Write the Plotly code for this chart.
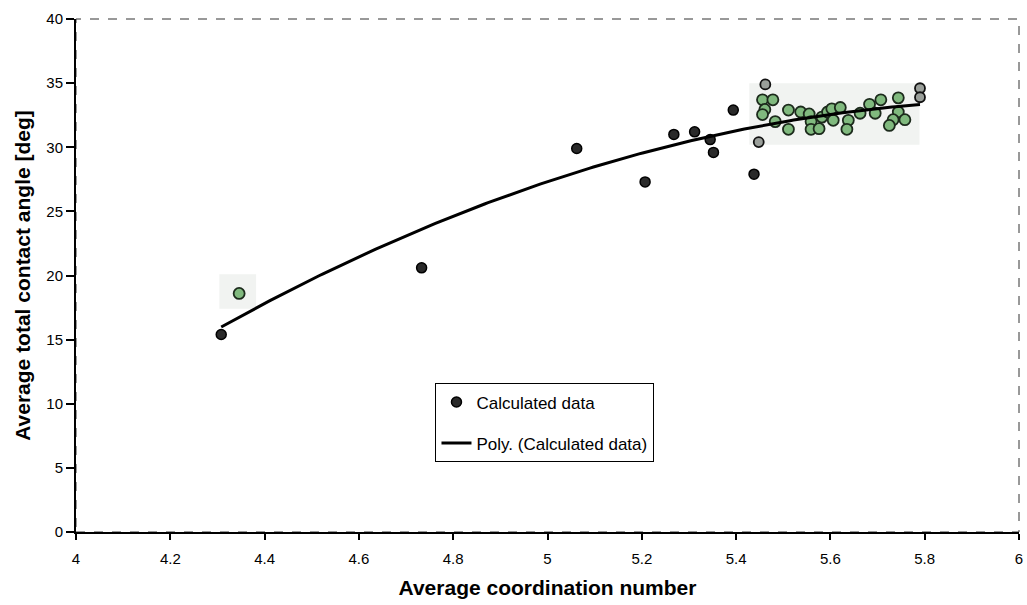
import numpy as np
import plotly.graph_objects as go

# Calculated data: average coordination number vs. average total contact angle [deg]
dark_x = [4.308, 4.733, 5.062, 5.207, 5.268, 5.312, 5.345, 5.352, 5.394, 5.438]
dark_y = [15.4, 20.6, 29.9, 27.3, 31.0, 31.2, 30.6, 29.6, 32.9, 27.9]

grey_x = [5.448, 5.462, 5.790, 5.790]
grey_y = [30.4, 34.9, 34.6, 33.9]

green_x = [4.346, 5.456, 5.478, 5.461, 5.456, 5.483, 5.511, 5.511, 5.537, 5.555,
           5.559, 5.559, 5.576, 5.582, 5.594, 5.603, 5.621, 5.606, 5.638, 5.635,
           5.663, 5.683, 5.695, 5.707, 5.744, 5.744, 5.733, 5.725, 5.758]
green_y = [18.6, 33.7, 33.7, 32.95, 32.55, 32.0, 32.9, 31.4, 32.75, 32.6,
           32.0, 31.4, 31.45, 32.35, 32.75, 33.0, 33.1, 32.1, 32.1, 31.4,
           32.65, 33.35, 32.65, 33.7, 33.85, 32.75, 32.15, 31.7, 32.15]

x_ticks = [4, 4.2, 4.4, 4.6, 4.8, 5, 5.2, 5.4, 5.6, 5.8, 6]
x_tick_text = ["4", "4.2", "4.4", "4.6", "4.8", "5", "5.2", "5.4", "5.6", "5.8", "6"]
y_ticks = [0, 5, 10, 15, 20, 25, 30, 35, 40]

# Second-order polynomial trend line over all calculated points
all_x = np.array(dark_x + grey_x + green_x)
all_y = np.array(dark_y + grey_y + green_y)
coef = np.polyfit(all_x, all_y, 2)
fit_x = np.linspace(all_x.min(), all_x.max(), 200)
fit_y = np.polyval(coef, fit_x)

FONT = "Liberation Sans, Arial, sans-serif"

fig = go.Figure()

fig.add_trace(go.Scatter(
    x=green_x, y=green_y, mode="markers", showlegend=False,
    marker=dict(size=11, color="#80b97e", line=dict(color="#1c2a1c", width=1.8)),
))
fig.add_trace(go.Scatter(
    x=grey_x, y=grey_y, mode="markers", showlegend=False,
    marker=dict(size=10, color="#9a9f9a", line=dict(color="#111111", width=1.8)),
))
fig.add_trace(go.Scatter(
    x=dark_x, y=dark_y, mode="markers", name="Calculated data",
    legendgroup="a",
    marker=dict(size=10, color="#2a2a2a", line=dict(color="#000000", width=1.5)),
))
fig.add_trace(go.Scatter(
    x=fit_x, y=fit_y, mode="lines", name="Poly. (Calculated data)",
    legendgroup="b",
    line=dict(color="#000000", width=3),
))

# faint scan-background patches behind the highlighted points
fig.add_shape(type="rect", xref="x", yref="y", x0=5.428, x1=5.789, y0=30.2, y1=35.0,
              fillcolor="#f1f3f1", line=dict(width=0), layer="below")
fig.add_shape(type="rect", xref="x", yref="y", x0=4.304, x1=4.382, y0=17.4, y1=20.1,
              fillcolor="#f1f3f1", line=dict(width=0), layer="below")

# dashed plot-area frame
fig.add_shape(type="rect", xref="paper", yref="paper", x0=0, x1=1, y0=0, y1=1,
              line=dict(color="#333333", width=1, dash="dash"), layer="below")

fig.update_layout(
    width=1027, height=605,
    margin=dict(l=76, r=4, t=19, b=73),
    paper_bgcolor="white", plot_bgcolor="white",
    font=dict(family=FONT, size=15, color="#000000"),
    showlegend=True,
    legend=dict(
        x=0.381, y=0.29, xanchor="left", yanchor="top",
        bgcolor="white", bordercolor="#000000", borderwidth=1.2,
        font=dict(family=FONT, size=17, color="#000000"),
        traceorder="grouped", tracegroupgap=16,
        itemwidth=30,
    ),
    xaxis=dict(
        range=[4, 6], tickvals=x_ticks, ticktext=x_tick_text,
        showgrid=False, zeroline=False,
        showline=True, linecolor="#000000", linewidth=2,
        ticks="outside", ticklen=6, tickwidth=2, tickcolor="#000000",
        tickfont=dict(family=FONT, size=15),
        ticklabelstandoff=6, ticklabeloverflow="allow",
        title=dict(text="<b>Average coordination number</b>",
                   font=dict(family=FONT, size=21), standoff=14),
    ),
    yaxis=dict(
        range=[0, 40], tickvals=y_ticks,
        showgrid=False, zeroline=False,
        showline=True, linecolor="#000000", linewidth=2,
        ticks="outside", ticklen=8, tickwidth=2, tickcolor="#000000",
        tickfont=dict(family=FONT, size=15),
        title=dict(text="<b>Average total contact angle [deg]</b>",
                   font=dict(family=FONT, size=21), standoff=10),
    ),
)

fig.write_html("out.html")
